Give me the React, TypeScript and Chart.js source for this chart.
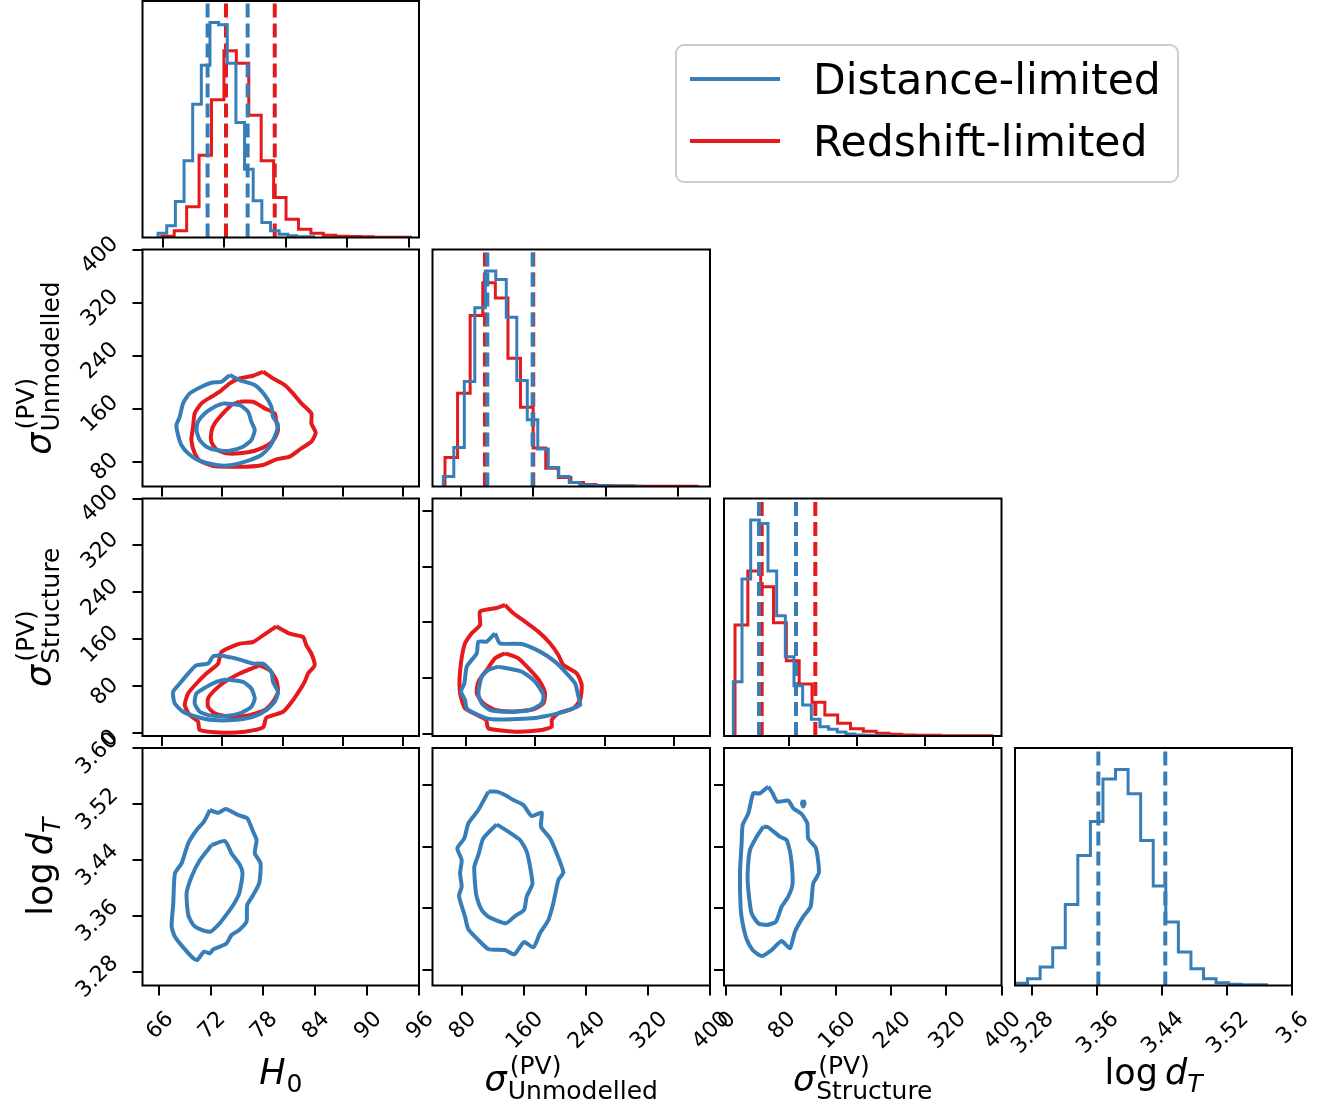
import React, { useEffect, useRef } from "react";
import { Chart, registerables } from "chart.js";

Chart.register(...registerables);

// ---------------- data ----------------
const seriesNames = ["Distance-limited", "Redshift-limited"];

// tick values and labels
const h0InnerTicks = [66, 72, 78, 84, 90];
const h0BottomTicks = [66, 72, 78, 84, 90, 96];
const h0BottomLabels = ["66", "72", "78", "84", "90", "96"];
const unmodInnerTicks = [80, 160, 240, 320];
const unmodBottomTicks = [80, 160, 240, 320, 400];
const unmodBottomLabels = ["80", "160", "240", "320", "400"];
const unmodLeftTicks = [80, 160, 240, 320, 400];
const unmodLeftLabels = ["80", "160", "240", "320", "400"];
const structLeftTicks = [0, 80, 160, 240, 320, 400];
const structLeftLabels = ["0", "80", "160", "240", "320", "400"];
const structInnerYTicks = [0, 80, 160, 240, 320];
const structInnerTicks = [80, 160, 240, 320];
const structBottomTicks = [0, 80, 160, 240, 320, 400];
const structBottomLabels = ["0", "80", "160", "240", "320", "400"];
const logdLeftTicks = [3.28, 3.36, 3.44, 3.52, 3.6];
const logdLeftLabels = ["3.28", "3.36", "3.44", "3.52", "3.60"];
const logdInnerTicks = [3.28, 3.36, 3.44, 3.52];
const logdBottomTicks = [3.28, 3.36, 3.44, 3.52, 3.6];
const logdBottomLabels = ["3.28", "3.36", "3.44", "3.52", "3.6"];

// 1D histograms (bin start, bin width, counts)
const h0BlueStart = 65.57, h0BlueWidth = 0.842;
const h0BlueCounts = [5, 13, 35, 108, 230, 400, 517, 645, 638, 523, 345, 205, 110, 45, 20, 10, 5, 2];
const h0RedStart = 65.93, h0RedWidth = 1.21;
const h0RedCounts = [2, 4, 20, 92, 247, 413, 560, 523, 367, 230, 120, 55, 25, 13, 7, 4, 3, 2, 1, 1];
const unmodBlueStart = 60.84, unmodBlueWidth = 11.585;
const unmodBlueCounts = [5, 30, 117, 314, 535, 645, 620, 507, 317, 200, 112, 57, 30, 12, 5, 3, 2, 1, 1];
const unmodRedStart = 62.68, unmodRedWidth = 13.9;
const unmodRedCounts = [7, 87, 279, 512, 610, 564, 384, 237, 115, 55, 27, 12, 6, 3, 2, 2, 1, 1, 1, 1];
const structBlueStart = 14.58, structBlueWidth = 10.18;
const structBlueCounts = [16, 163, 471, 648, 638, 495, 361, 238, 151, 93, 50, 28, 20, 12, 6, 3, 2, 1];
const structRedStart = 16.55, structRedWidth = 15.08;
const structRedCounts = [53, 333, 495, 448, 340, 226, 156, 101, 63, 38, 22, 14, 8, 5, 3, 2, 2, 1, 1, 1];
const logdBlueStart = 3.2594, logdBlueWidth = 0.01547;
const logdBlueCounts = [2, 7, 20, 55, 113, 242, 388, 490, 617, 645, 573, 433, 297, 190, 100, 50, 20, 8, 4, 2];

// 16th / 84th percentiles
const h0BlueQ = [70.39, 74.29];
const h0RedQ = [72.18, 76.93];
const unmodBlueQ = [109.4, 159.4];
const unmodRedQ = [106.8, 160.1];
const structBlueQ = [44.75, 88.2];
const structRedQ = [47.9, 110.9];
const logdBlueQ = [3.362, 3.4444];

// 2D contours (x, y) in data units
const h0UnmodBlueOuter = [[72.74,211],[73.73,203.4],[75.23,195.9],[76.22,180.8],[76.89,163.1],[77.05,148],[77.55,135.4],[77.22,117.8],[76.72,102.7],[75.89,90.1],[74.73,82.5],[72.74,74.5],[71.41,75],[69.58,82.5],[68.59,92.6],[67.92,105.2],[67.59,120.3],[67.43,135.4],[67.76,148],[68.09,168.2],[68.75,183.3],[69.92,193.4],[70.91,199.4],[71.91,200.9]];
const h0UnmodBlueInner = [[72.07,168.2],[73.73,165.6],[74.56,155.6],[74.89,140.5],[75.23,127.9],[74.89,112.7],[74.06,102.7],[72.74,96.6],[71.41,97.6],[70.41,102.7],[69.75,112.7],[69.42,127.9],[69.58,140.5],[70.25,153],[71.24,163.1]];
const h0UnmodRedOuter = [[76.06,216],[77.05,205.9],[78.21,195.9],[79.04,183.3],[79.87,168.2],[80.87,153],[80.87,137.9],[81.3,123.8],[80.87,110.2],[79.87,100.2],[78.71,87.6],[77.38,83.5],[76.06,75],[74.4,72.4],[72.74,72.4],[71.08,73.5],[69.75,81.5],[69.25,92.6],[68.92,112.7],[69.09,132.9],[69.25,153],[69.92,168.2],[70.91,178.2],[71.74,185.8],[72.74,198.4],[73.73,205.9],[75.06,210]];
const h0UnmodRedInner = [[73.73,170.7],[75.06,170.7],[76.22,160.6],[77.22,153],[77.38,140.5],[77.55,127.9],[77.22,115.3],[76.55,105.2],[75.23,96.6],[73.73,92.6],[72.41,92.6],[71.41,98.6],[70.91,110.2],[70.91,125.3],[71.24,137.9],[72.07,153],[72.9,165.6]];

const h0StructRedOuter = [[77.38,182.2],[78.71,169.8],[80.04,164.1],[80.37,150],[80.87,135.8],[81.2,116],[80.54,101.9],[80.2,87.7],[79.71,73.6],[79.04,56.6],[78.05,36.8],[76.39,26.6],[76.06,10.2],[74.23,2.8],[72.07,1.1],[69.75,5.7],[69.58,19.8],[68.75,31.1],[68.26,48.1],[68.59,67.9],[69.42,84.9],[70.41,101.9],[71.58,118.8],[71.91,138.7],[73.73,152.8],[75.06,155.6],[76.06,167]];
const h0StructRedInner = [[75.72,116],[76.72,107.5],[77.38,90.5],[77.55,70.7],[77.05,53.8],[76.22,39.6],[74.73,31.1],[72.74,28.3],[71.24,34],[70.58,45.3],[70.58,59.4],[71.24,73.6],[72.24,87.7],[73.73,101.9],[74.89,110.4]];
const h0StructBlueOuter = [[71.74,133],[73.4,127.3],[75.06,118.8],[76.06,118.8],[76.89,104.7],[77.05,87.7],[77.55,70.7],[77.22,53.8],[76.39,39.6],[75.06,28.3],[73.07,22.6],[71.08,22.6],[69.42,28.3],[68.09,36.8],[67.26,50.9],[67.1,70.7],[67.76,84.9],[68.59,101.9],[69.42,116],[70.58,118.8],[71.08,131.3]];
const h0StructBlueInner = [[72.41,91.7],[74.06,87.7],[74.89,76.4],[75.23,59.4],[74.89,45.3],[73.9,35.1],[72.41,29.4],[70.75,30.6],[69.75,36.8],[69.25,50.9],[69.42,67.9],[70.41,79.2],[71.41,87.7]];

const unmodStructRedOuter = [[125.3,185],[134.9,173.1],[148.3,161.2],[163.6,146.9],[177,130.2],[186.6,113.5],[192.4,99.2],[207.7,87.3],[213.5,70.6],[211.6,49.1],[203.9,37.2],[186.6,30],[179,20.5],[179,11],[167.5,6.2],[136.8,3.8],[106.1,8.6],[103.4,20.5],[90.7,29.1],[79.2,37.2],[73.5,58.7],[73.5,89.7],[78.5,127.8],[86.9,144.5],[96.5,156.4],[96.5,175.5],[113.8,180.3]];
const unmodStructRedInner = [[125.3,115.9],[140.6,108.7],[155.9,89.7],[165.5,75.3],[171.3,58.7],[169.4,44.3],[157.9,35.8],[134.9,32.4],[113.8,34.8],[100.3,44.3],[92.7,58.7],[94.6,75.3],[104.2,92],[113.8,108.7]];
const unmodStructBlueOuter = [[113.8,144.5],[119.5,130.2],[144.4,129.2],[165.5,118.3],[182.8,104],[194.3,89.7],[205.8,73],[209.7,53.9],[211.6,42],[186.6,30],[155.9,22.9],[109.9,21.5],[94.6,27.7],[81.2,37.2],[79.2,49.1],[74.6,61],[78.5,73],[81.2,96.8],[92.7,115.9],[94.6,132.6],[104.2,132.6]];
const unmodStructBlueInner = [[117.6,96.8],[144.4,89.7],[159.8,75.3],[169.4,56.3],[167.5,44.3],[154,34.8],[129.1,32.4],[108,34.8],[98.4,44.3],[94.6,58.7],[98.4,82.5],[106.1,92]];

const h0LogdBlueOuter = [[71.88,3.5118],[72.84,3.508],[73.72,3.5132],[75.14,3.5046],[76.18,3.4998],[76.87,3.4807],[77.26,3.4688],[77.06,3.4497],[77.72,3.4353],[77.56,3.4067],[76.87,3.3899],[76.18,3.3756],[76.1,3.3517],[75.26,3.3398],[74.37,3.3326],[73.8,3.3207],[73.03,3.3159],[72.26,3.3121],[71.88,3.3063],[71.19,3.3087],[70.42,3.2968],[69.96,3.2992],[68.8,3.3149],[67.84,3.3302],[67.46,3.3446],[67.65,3.378],[67.84,3.421],[68.61,3.4353],[69.38,3.464],[70.34,3.4831],[71.19,3.4951]];
const h0LogdBlueInner = [[72.07,3.4616],[73.61,3.4673],[74.37,3.4497],[75.34,3.433],[75.64,3.421],[75.26,3.3924],[74.57,3.3756],[73.61,3.3589],[72.84,3.347],[71.95,3.3374],[70.92,3.3398],[69.96,3.347],[69.38,3.3613],[69.19,3.3924],[69.76,3.4162],[70.73,3.4401]];

const unmodLogdBlueOuter = [[114.4,3.5113],[125.1,3.5113],[135.8,3.507],[146.6,3.5005],[159.5,3.494],[170.2,3.4797],[183.1,3.4841],[182.2,3.4659],[193.8,3.4508],[202.4,3.4313],[211,3.4067],[204.6,3.3967],[198.1,3.3665],[191.7,3.3449],[180.9,3.3276],[172.4,3.3094],[160.3,3.3163],[147.9,3.3003],[135.8,3.3059],[114.4,3.3072],[101.5,3.3189],[88.6,3.3327],[84.3,3.3492],[76.6,3.376],[80,3.3881],[77.9,3.4054],[80,3.4227],[74.4,3.4378],[83.4,3.4508],[88.6,3.4702],[101.5,3.4875]];
const unmodLogdBlueInner = [[125.1,3.4689],[140.1,3.4594],[155.2,3.4486],[163.8,3.4335],[168.1,3.414],[171.1,3.3915],[163.8,3.3751],[160.3,3.3578],[148.7,3.35],[136.7,3.3405],[114.4,3.3492],[105.8,3.3578],[99.3,3.3751],[97.2,3.3924],[96.3,3.414],[101.5,3.4292],[107.9,3.4508]];

const structLogdBlueOuter = [[61.4,3.5178],[67.7,3.5091],[74.5,3.4984],[90.4,3.4996],[97.7,3.4897],[109.8,3.4823],[118,3.4702],[119.4,3.4508],[130.6,3.4378],[134.9,3.4062],[126.7,3.3924],[122.8,3.3621],[112.2,3.3492],[100.1,3.3297],[92.8,3.3081],[80.8,3.3176],[66.2,3.3059],[51.7,3.2982],[38.7,3.3059],[30,3.3198],[24.2,3.3405],[21.3,3.36],[20.3,3.4054],[22.7,3.4443],[24.2,3.4681],[32.4,3.4832],[39.7,3.5091],[49.3,3.5091]];
const structLogdBlueIsland = [[112.2,3.5005],[114.1,3.4962],[112.2,3.4919],[110.3,3.4962]];
const structLogdBlueInner = [[54.2,3.4659],[61.4,3.465],[78.3,3.4529],[88,3.4486],[93.8,3.4292],[96.7,3.3924],[90.4,3.3751],[80.8,3.3621],[72.5,3.3427],[59,3.3384],[46.9,3.3405],[37.2,3.3535],[32.4,3.3838],[31.4,3.4054],[34.8,3.4356],[44.5,3.4529]];

// ---------------- styling / layout ----------------
const PAGE_W = 1331, PAGE_H = 1111;
const BLUE = "#377eb8", RED = "#e41a1c";
const FAM = '"DejaVu Sans", sans-serif';
const AX = 12;
const TICK_LEN = 10;
const TICK_FONT = 22;
const LABEL_GAP = 20;
const Y_LABEL_SHIFT = 4;
const TITLE = 35, SMALL = 25;
const LEGEND_FONT = 42.5;

const COLS = [[142.5, 419], [432.5, 710], [724, 1001.5], [1015, 1292]];
const ROWS = [[1, 237.5], [249.5, 486.5], [498.5, 736], [748, 985.5]];

function stepPoints(start, width, counts) {
  const pts = [{ x: start, y: 0 }];
  counts.forEach((c, i) => pts.push({ x: start + i * width, y: c }));
  const end = start + counts.length * width;
  pts.push({ x: end, y: counts[counts.length - 1] });
  pts.push({ x: end, y: 0 });
  return pts;
}
function histDs(start, width, counts, color) {
  return { data: stepPoints(start, width, counts), borderColor: color, borderWidth: 3, stepped: "after", pointRadius: 0, fill: false };
}
function qDs(q, top, color) {
  return { data: [{ x: q, y: 0 }, { x: q, y: top }], borderColor: color, borderWidth: 4, borderDash: [14, 6], pointRadius: 0, fill: false };
}
function contourDs(pts, color) {
  const closed = [...pts, pts[0]].map(([x, y]) => ({ x, y }));
  return { data: closed, borderColor: color, borderWidth: 4, tension: 0.2, pointRadius: 0, fill: false };
}
const histTop = (...arrs) => 1.1 * Math.max(...arrs.flat());

const h0Top = histTop(h0BlueCounts, h0RedCounts);
const unmodTop = histTop(unmodBlueCounts, unmodRedCounts);
const structTop = histTop(structBlueCounts, structRedCounts);
const logdTop = histTop(logdBlueCounts);

const PANELS = [
  {
    col: 0, row: 0, x: [64.05, 90.98], y: [0, h0Top], xTicks: h0InnerTicks, legend: true,
    datasets: [
      ...h0BlueQ.map((q) => qDs(q, h0Top, BLUE)),
      histDs(h0BlueStart, h0BlueWidth, h0BlueCounts, BLUE),
      ...h0RedQ.map((q) => qDs(q, h0Top, RED)),
      histDs(h0RedStart, h0RedWidth, h0RedCounts, RED),
    ],
  },
  {
    col: 0, row: 1, x: [64.05, 91.59], y: [42.5, 400.8], xTicks: h0InnerTicks,
    yTicks: unmodLeftTicks, yLabels: unmodLeftLabels, yTitle: "unmod",
    datasets: [
      contourDs(h0UnmodBlueOuter, BLUE), contourDs(h0UnmodBlueInner, BLUE),
      contourDs(h0UnmodRedOuter, RED), contourDs(h0UnmodRedInner, RED),
    ],
  },
  {
    col: 1, row: 1, x: [48.9, 355.2], y: [0, unmodTop], xTicks: unmodInnerTicks,
    datasets: [
      ...unmodBlueQ.map((q) => qDs(q, unmodTop, BLUE)),
      histDs(unmodBlueStart, unmodBlueWidth, unmodBlueCounts, BLUE),
      ...unmodRedQ.map((q) => qDs(q, unmodTop, RED)),
      histDs(unmodRedStart, unmodRedWidth, unmodRedCounts, RED),
    ],
  },
  {
    col: 0, row: 2, x: [64.05, 91.59], y: [-4.5, 400], xTicks: h0InnerTicks,
    yTicks: structLeftTicks, yLabels: structLeftLabels, yTitle: "struct",
    datasets: [
      contourDs(h0StructBlueOuter, BLUE), contourDs(h0StructBlueInner, BLUE),
      contourDs(h0StructRedOuter, RED), contourDs(h0StructRedInner, RED),
    ],
  },
  {
    col: 1, row: 2, x: [41.8, 361.1], y: [-2.4, 337.3], xTicks: unmodInnerTicks, yTicks: structInnerYTicks,
    datasets: [
      contourDs(unmodStructBlueOuter, BLUE), contourDs(unmodStructBlueInner, BLUE),
      contourDs(unmodStructRedOuter, RED), contourDs(unmodStructRedInner, RED),
    ],
  },
  {
    col: 2, row: 2, x: [3.6, 329.7], y: [0, structTop], xTicks: structInnerTicks,
    datasets: [
      ...structBlueQ.map((q) => qDs(q, structTop, BLUE)),
      histDs(structBlueStart, structBlueWidth, structBlueCounts, BLUE),
      ...structRedQ.map((q) => qDs(q, structTop, RED)),
      histDs(structRedStart, structRedWidth, structRedCounts, RED),
    ],
  },
  {
    col: 0, row: 3, x: [64.1, 96], y: [3.2602, 3.6007],
    xTicks: h0BottomTicks, xLabels: h0BottomLabels, xTitle: "H0",
    yTicks: logdLeftTicks, yLabels: logdLeftLabels, yTitle: "logd",
    datasets: [contourDs(h0LogdBlueOuter, BLUE), contourDs(h0LogdBlueInner, BLUE)],
  },
  {
    col: 1, row: 3, x: [42.4, 400], y: [3.2599, 3.5679],
    xTicks: unmodBottomTicks, xLabels: unmodBottomLabels, xTitle: "unmod", yTicks: logdInnerTicks,
    datasets: [contourDs(unmodLogdBlueOuter, BLUE), contourDs(unmodLogdBlueInner, BLUE)],
  },
  {
    col: 2, row: 3, x: [-2.9, 400], y: [3.2599, 3.5679],
    xTicks: structBottomTicks, xLabels: structBottomLabels, xTitle: "struct", yTicks: logdInnerTicks,
    datasets: [
      contourDs(structLogdBlueOuter, BLUE), contourDs(structLogdBlueInner, BLUE),
      contourDs(structLogdBlueIsland, BLUE),
    ],
  },
  {
    col: 3, row: 3, x: [3.2594, 3.6004], y: [0, logdTop],
    xTicks: logdBottomTicks, xLabels: logdBottomLabels, xTitle: "logd",
    datasets: [
      ...logdBlueQ.map((q) => qDs(q, logdTop, BLUE)),
      histDs(logdBlueStart, logdBlueWidth, logdBlueCounts, BLUE),
    ],
  },
];

// ---------------- drawing helpers ----------------
function layoutTitle(ctx, kind) {
  const main = `${TITLE}px ${FAM}`;
  const mainIt = `italic ${TITLE}px ${FAM}`;
  const small = `${SMALL}px ${FAM}`;
  const smallIt = `italic ${SMALL}px ${FAM}`;
  const w = (t, f) => { ctx.font = f; return ctx.measureText(t).width; };
  if (kind === "H0") {
    const wH = w("H", mainIt);
    return { runs: [{ t: "H", f: mainIt, x: 0, dy: 0 }, { t: "0", f: small, x: wH + 1, dy: 8 }], width: wH + 1 + w("0", small) };
  }
  if (kind === "logd") {
    const wl = w("log", main);
    const gap = TITLE * 0.2;
    const wd = w("d", mainIt);
    const xT = wl + gap + wd;
    return {
      runs: [{ t: "log", f: main, x: 0, dy: 0 }, { t: "d", f: mainIt, x: wl + gap, dy: 0 }, { t: "T", f: smallIt, x: xT, dy: 8 }],
      width: xT + w("T", smallIt),
    };
  }
  const sub = kind === "unmod" ? "Unmodelled" : "Structure";
  const ws = w("σ", mainIt);
  const wsup = w("(PV)", small);
  const wsub = w(sub, small);
  return {
    runs: [{ t: "σ", f: mainIt, x: 0, dy: 0 }, { t: "(PV)", f: small, x: ws + 3, dy: -17 }, { t: sub, f: small, x: ws + 1, dy: 8 }],
    width: ws + 1 + Math.max(wsup + 2, wsub),
  };
}

function drawRuns(ctx, lay, x0, baseline) {
  ctx.textAlign = "left";
  ctx.textBaseline = "alphabetic";
  for (const r of lay.runs) {
    ctx.font = r.f;
    ctx.fillText(r.t, x0 + r.x, baseline + r.dy);
  }
}

function decoPlugin(spec) {
  return {
    id: "cornerDeco",
    afterDraw(chart) {
      const ctx = chart.ctx;
      const a = chart.chartArea;
      const xs = chart.scales.x;
      const ys = chart.scales.y;
      ctx.save();
      ctx.strokeStyle = "#000";
      ctx.lineWidth = 2;
      ctx.setLineDash([]);
      ctx.strokeRect(a.left, a.top, a.right - a.left, a.bottom - a.top);
      ctx.fillStyle = "#000";
      const h = TICK_FONT * 1.164;
      if (spec.xLabels) {
        ctx.font = `${TICK_FONT}px ${FAM}`;
        spec.xTicks.forEach((v, i) => {
          const lab = spec.xLabels[i];
          const tw = ctx.measureText(lab).width;
          const half = ((tw + h) * Math.SQRT1_2) / 2;
          const px = xs.getPixelForValue(v);
          ctx.save();
          ctx.translate(px, a.bottom + LABEL_GAP + half);
          ctx.rotate(-Math.PI / 4);
          ctx.textAlign = "center";
          ctx.textBaseline = "alphabetic";
          ctx.fillText(lab, 0, 0.346 * TICK_FONT);
          ctx.restore();
        });
      }
      if (spec.yLabels) {
        ctx.font = `${TICK_FONT}px ${FAM}`;
        spec.yTicks.forEach((v, i) => {
          const lab = spec.yLabels[i];
          const tw = ctx.measureText(lab).width;
          const half = ((tw + h) * Math.SQRT1_2) / 2;
          const py = ys.getPixelForValue(v);
          ctx.save();
          ctx.translate(a.left - LABEL_GAP - half, py + Y_LABEL_SHIFT);
          ctx.rotate(-Math.PI / 4);
          ctx.textAlign = "center";
          ctx.textBaseline = "alphabetic";
          ctx.fillText(lab, 0, 0.346 * TICK_FONT);
          ctx.restore();
        });
      }
      if (spec.xTitle) {
        const lay = layoutTitle(ctx, spec.xTitle);
        const cx = (a.left + a.right) / 2;
        const base = spec.xTitle === "unmod" || spec.xTitle === "struct" ? 1091 : 1084;
        drawRuns(ctx, lay, cx - lay.width / 2, base);
      }
      if (spec.yTitle) {
        const lay = layoutTitle(ctx, spec.yTitle);
        const cy = (a.top + a.bottom) / 2;
        const base = spec.yTitle === "logd" ? 51.5 : 51;
        ctx.save();
        ctx.translate(base, cy);
        ctx.rotate(-Math.PI / 2);
        drawRuns(ctx, lay, -lay.width / 2, 0);
        ctx.restore();
      }
      if (spec.legend) {
        ctx.beginPath();
        ctx.roundRect(676, 45, 502, 137, 8);
        ctx.fillStyle = "rgba(255,255,255,0.8)";
        ctx.fill();
        ctx.strokeStyle = "#cccccc";
        ctx.lineWidth = 2;
        ctx.stroke();
        const items = [{ c: BLUE, y: 79 }, { c: RED, y: 141 }];
        items.forEach((it, i) => {
          ctx.beginPath();
          ctx.moveTo(690, it.y);
          ctx.lineTo(780, it.y);
          ctx.strokeStyle = it.c;
          ctx.lineWidth = 4;
          ctx.stroke();
          ctx.fillStyle = "#000";
          ctx.font = `${LEGEND_FONT}px ${FAM}`;
          ctx.textAlign = "left";
          ctx.textBaseline = "alphabetic";
          ctx.fillText(seriesNames[i], 813, it.y + 15);
        });
      }
      ctx.restore();
    },
  };
}

function buildConfig(spec) {
  const [L, R] = COLS[spec.col];
  const [T, B] = ROWS[spec.row];
  const tickGrid = { display: true, drawOnChartArea: false, drawTicks: true, tickLength: TICK_LEN, lineWidth: 2, color: "#000" };
  return {
    type: "line",
    data: { datasets: spec.datasets },
    options: {
      animation: false,
      responsive: false,
      events: [],
      layout: { padding: { left: L - AX, top: T, right: PAGE_W - R, bottom: PAGE_H - B - AX } },
      plugins: { legend: { display: false }, tooltip: { enabled: false }, title: { display: false } },
      scales: {
        x: {
          type: "linear",
          min: spec.x[0],
          max: spec.x[1],
          afterBuildTicks: (s) => { s.ticks = spec.xTicks.map((v) => ({ value: v })); },
          afterFit: (s) => { s.height = AX; },
          ticks: { display: false },
          border: { display: false },
          grid: tickGrid,
        },
        y: {
          type: "linear",
          min: spec.y[0],
          max: spec.y[1],
          afterBuildTicks: (s) => { s.ticks = (spec.yTicks || []).map((v) => ({ value: v })); },
          afterFit: (s) => { s.width = AX; },
          ticks: { display: false },
          border: { display: false },
          grid: spec.yTicks ? tickGrid : { display: false },
        },
      },
    },
    plugins: [decoPlugin(spec)],
  };
}

function Panel({ spec }) {
  const ref = useRef(null);
  useEffect(() => {
    const chart = new Chart(ref.current, buildConfig(spec));
    return () => chart.destroy();
  }, [spec]);
  return (
    <canvas
      ref={ref}
      width={PAGE_W}
      height={PAGE_H}
      style={{ position: "absolute", left: 0, top: 0, width: PAGE_W, height: PAGE_H, pointerEvents: "none" }}
    />
  );
}

export default function App() {
  return (
    <div style={{ position: "absolute", left: 0, top: 0, width: PAGE_W, height: PAGE_H, background: "#fff", overflow: "hidden" }}>
      {PANELS.map((p, i) => (
        <Panel key={i} spec={p} />
      ))}
    </div>
  );
}
